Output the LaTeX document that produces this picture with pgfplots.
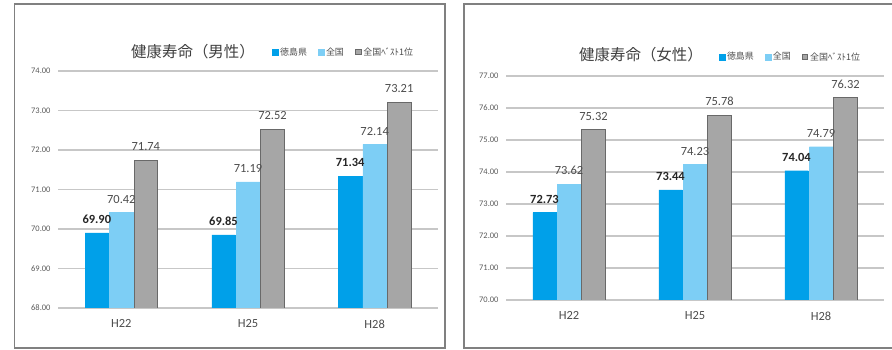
\documentclass[border=0pt]{standalone}
\usepackage{fontspec}
\setmainfont{Carlito}
\newfontfamily\jp{Noto Sans CJK JP}
\usepackage{pgfplots}
\pgfplotsset{compat=1.18}
\definecolor{blueA}{RGB}{0,160,233}
\definecolor{blueB}{RGB}{125,206,245}
\definecolor{grayC}{RGB}{166,166,166}
\definecolor{grayD}{RGB}{105,105,105}
\pgfplotsset{
  panel/.style={
    scale only axis,
    ybar=1bp,
    bar width=23.5bp,
    xmin=-0.5, xmax=2.5,
    xtick={0,1,2},
    xticklabels={H22,H25,H28},
    axis line style={draw=none},
    major tick length=0pt,
    ymajorgrids,
    grid style={line width=1.3bp, color=black!22},
    /pgf/number format/.cd, fixed, fixed zerofill, precision=2, assume math mode=true,
    /pgfplots/.cd,
    yticklabel style={font=\fontsize{8.5}{9}\selectfont, text=black!65, xshift=-4bp},
    xticklabel style={font=\fontsize{12.5}{13}\selectfont, text=black!70, yshift=-8bp},
    legend columns=3,
    legend style={draw=none, fill=none, inner sep=0pt,
      font=\jp\fontsize{9}{10}\selectfont, text=black!70,
      /tikz/every even column/.append style={column sep=9bp}},
    legend image code/.code={\draw[##1] (0bp,-2.8bp) rectangle (5.6bp,2.8bp);},
    every node near coord/.append style={anchor=south, inner sep=1bp, yshift=8bp,
      font=\fontsize{12.5}{13}\selectfont, text=black!70},
  }
}
\begin{document}
\begin{tikzpicture}
\path[use as bounding box] (0,0) rectangle (892bp,350bp);
\draw[line width=1.6bp, color=black!50] (14.5bp,2bp) rectangle (445bp,346bp);
\draw[line width=1.6bp, color=black!50] (893bp,346bp) -- (464bp,346bp) -- (464bp,2bp) -- (893bp,2bp);
\begin{axis}[panel, at={(58bp,42bp)}, anchor=south west, width=380bp, height=237bp,
  ymin=68, ymax=74, ytick={68,69,...,74},
  legend style={at={(0.563,1.08)}, anchor=west}]
\addplot[fill=blueA, draw=blueA, nodes near coords,
  every node near coord/.append style={font=\bfseries\fontsize{12.5}{13}\selectfont, text=black!85}]
  coordinates {(0,69.90) (1,69.85) (2,71.34)};
\addplot[fill=blueB, draw=blueB, nodes near coords] coordinates {(0,70.42) (1,71.19) (2,72.14)};
\addplot[fill=grayC, draw=grayD, line width=0.8bp, nodes near coords] coordinates {(0,71.74) (1,72.52) (2,73.21)};
\legend{徳島県,全国,全国ﾍﾞｽﾄ1位}
\end{axis}
\node[font=\jp\fontsize{15.5}{16}\selectfont, text=black!75] at (193bp,298bp) {健康寿命（男性）};
\begin{axis}[panel, at={(506bp,50bp)}, anchor=south west, width=378bp, height=224bp,
  ymin=70, ymax=77, ytick={70,71,...,77},
  legend style={at={(0.563,1.085)}, anchor=west}]
\addplot[fill=blueA, draw=blueA, nodes near coords,
  every node near coord/.append style={font=\bfseries\fontsize{12.5}{13}\selectfont, text=black!85}]
  coordinates {(0,72.73) (1,73.44) (2,74.04)};
\addplot[fill=blueB, draw=blueB, nodes near coords] coordinates {(0,73.62) (1,74.23) (2,74.79)};
\addplot[fill=grayC, draw=grayD, line width=0.8bp, nodes near coords] coordinates {(0,75.32) (1,75.78) (2,76.32)};
\legend{徳島県,全国,全国ﾍﾞｽﾄ1位}
\end{axis}
\node[font=\jp\fontsize{15.5}{16}\selectfont, text=black!75] at (641bp,295bp) {健康寿命（女性）};
\end{tikzpicture}
\end{document}
